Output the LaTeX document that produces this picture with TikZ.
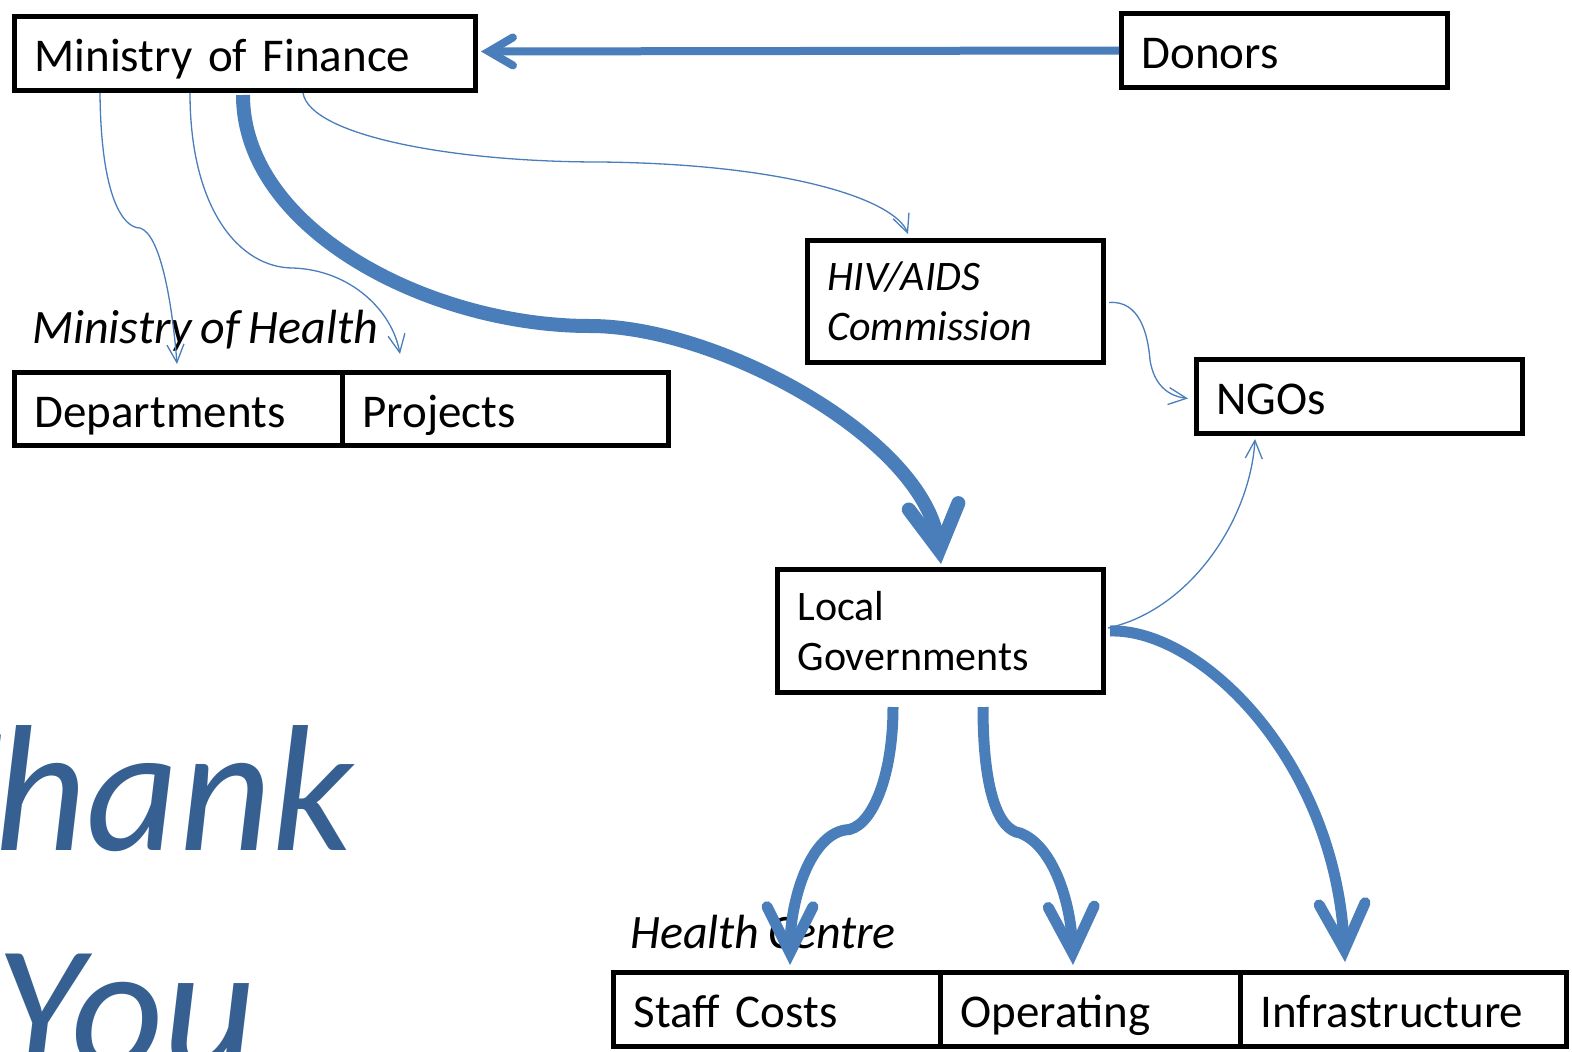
\documentclass[tikz,border=0pt]{standalone}
\usepackage{fontspec}
\setmainfont[WordSpace=0.8]{Carlito}
\usetikzlibrary{arrows.meta,calc}
\definecolor{flow}{HTML}{4A7EBB}
\definecolor{thanks}{HTML}{376092}
\begin{document}
\begin{tikzpicture}[x=1pt,y=-1pt,
  box/.style={draw=black, line width=5pt, anchor=north west, inner xsep=20pt,
    inner ysep=0pt, align=left, font=\fontsize{42}{50}\selectfont},
  oneline/.style={box, text height=44pt, text depth=8pt,
    font=\fontsize{47}{53}\selectfont},
  lab/.style={anchor=base west, inner sep=0pt, font=\fontsize{48}{53}\selectfont\itshape},
  thin/.style={draw=flow, line width=1.3pt,
    -{Straight Barb[length=18pt,width=17pt]}},
  donorflow/.style={draw=flow, line width=8pt,
    -{Straight Barb[length=24pt,width=28pt,line cap=round,line join=miter]}},
  mainflow/.style={draw=flow, line width=14pt,
    -{Straight Barb[length=44pt,width=50pt,line cap=round,line join=miter]}},
  subflow/.style={draw=flow, line width=11pt,
    -{Straight Barb[length=46pt,width=46pt,line cap=round,line join=miter]}},
  bigtext/.style={anchor=base, inner sep=0pt, text=thanks,
    font=\fontsize{180}{216}\selectfont\itshape}
]
\useasboundingbox (0,0) rectangle (1572,1052);

% closing words, cut by the page edge
\begin{scope}
  \clip (0,0) rectangle (1572,1052);
  \node[bigtext] (thank) at (130,850) {Thank};
  \node[bigtext] (you) at (126,1069) {You};
\end{scope}

% boxes
\node[oneline, minimum width=461pt, text width=421pt, minimum height=74pt] (mof) at (12,14) {Ministry of Finance};
\node[oneline, minimum width=326pt, text width=286pt, minimum height=74pt] (donors) at (1119,11) {Donors};
\node[box, minimum width=296pt, text width=256pt, minimum height=122pt,
  font=\fontsize{42}{50}\selectfont\itshape] (hiv) at (805,238) {HIV/AIDS\\Commission};
\node[oneline, minimum width=326pt, text width=286pt, minimum height=74pt] (ngo) at (1194,357) {NGOs};
\node[oneline, minimum width=328pt, text width=288pt, minimum height=73pt] (dept) at (12,370) {Departments};
\node[oneline, minimum width=326pt, text width=286pt, minimum height=73pt] (proj) at (340,370) {Projects};
\node[box, minimum width=326pt, text width=286pt, minimum height=123pt] (lg) at (775,567) {Local\\Governments};
\node[oneline, minimum width=327pt, text width=287pt, minimum height=74pt] (staff) at (611,970) {Staff Costs};
\node[oneline, minimum width=300pt, text width=260pt, minimum height=74pt] (oper) at (938,970) {Operating};
\node[oneline, minimum width=326pt, text width=286pt, minimum height=74pt] (infra) at (1238,970) {Infrastructure};

% group labels
\node[lab] (moh) at (32,343) {Ministry of Health};
\node[lab] (hc) at (630,948) {Health Centre};

% thin flows
\draw[thin] ($(mof.south west)+(88,0)$) .. controls (101,200) and (124,228) .. (140,228)
  .. controls (160,234) and (172,300) .. ($(dept.north west)+(165,-6)$);
\draw[thin] ($(mof.south west)+(178,0)$) .. controls (190,210) and (240,268) .. (293,268)
  .. controls (350,270) and (392,310) .. ($(proj.north west)+(60,-16)$);
\draw[thin] ($(mof.south west)+(291,0)$) .. controls (310,135) and (450,162) .. (600,162)
  .. controls (790,164) and (895,200) .. ($(hiv.north west)+(103,-4)$);
\draw[thin] ($(hiv.east)+(3,1)$) .. controls (1140,300) and (1148,335) .. (1150,360)
  .. controls (1154,385) and (1168,396) .. ($(ngo.west)+(-6,2)$);
\draw[thin] ($(lg.east)+(2,-3)$) .. controls (1190,610) and (1250,520) .. ($(ngo.south west)+(61,3)$);

% main flows
\draw[donorflow] (donors.west) -- ($(mof.east)+(3,-2)$);
\draw[mainflow] ($(mof.south west)+(231,2)$) .. controls (243,230) and (430,326) .. (590,326)
  .. controls (720,326) and (925,440) .. ($(lg.north west)+(166,-3)$);
\draw[subflow] ($(lg.south west)+(118,12)$) .. controls (893,780) and (870,830) .. (845,830)
  .. controls (810,836) and (790,900) .. ($(staff.north west)+(179,-5)$);
\draw[subflow] ($(lg.south west)+(208,12)$) .. controls (983,790) and (998,830) .. (1020,833)
  .. controls (1052,845) and (1071,900) .. ($(oper.north west)+(135,-5)$);
\draw[subflow] ($(lg.east)+(4,0)$) .. controls (1200,628) and (1335,760) .. ($(infra.north west)+(107,-8)$);
\end{tikzpicture}
\end{document}
